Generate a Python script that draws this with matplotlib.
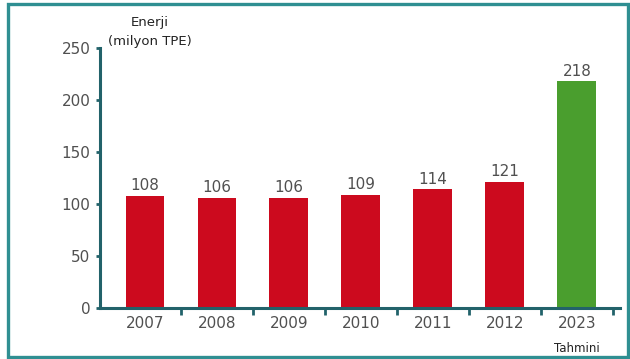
import matplotlib
matplotlib.use("Agg")
import matplotlib.pyplot as plt
from matplotlib.patches import Rectangle
import numpy as np

years = ["2007", "2008", "2009", "2010", "2011", "2012", "2023"]
energy = [108, 106, 106, 109, 114, 121, 218]
bar_colors = ["#cc0a1e"] * 6 + ["#4a9e2e"]
yticks = [0, 50, 100, 150, 200, 250]

AXIS = "#22626a"
TEXT = "#505050"

fig = plt.figure(figsize=(6.3, 3.59), dpi=100)
fig.patch.set_facecolor("white")
ax = fig.add_axes([100 / 630, 1 - 308 / 359, 520 / 630, 260 / 359])

x = np.arange(len(years))
ax.bar(x, energy, width=0.54, color=bar_colors, zorder=2)
for xi, v in zip(x, energy):
    ax.annotate(str(v), (xi, v), xytext=(0, 2), textcoords="offset points",
                ha="center", va="bottom", fontsize=11, color=TEXT)

ax.set_ylim(0, 250)
ax.set_xlim(-0.625, 6.6)
ax.set_yticks(yticks)
ax.set_xticks(x)
ax.set_xticklabels(years)
ax.set_xticks(np.arange(len(years)) + 0.5, minor=True)

for s in ["top", "right"]:
    ax.spines[s].set_visible(False)
for s in ["left", "bottom"]:
    ax.spines[s].set_color(AXIS)
    ax.spines[s].set_linewidth(2.2)
ax.spines["bottom"].set_zorder(3)

ax.tick_params(axis="y", direction="out", length=3, width=2, color=AXIS,
               labelsize=11, labelcolor=TEXT, pad=4)
ax.tick_params(axis="x", which="major", length=0, labelsize=11,
               labelcolor=TEXT, pad=6)
ax.tick_params(axis="x", which="minor", direction="out", length=5,
               width=2, color=AXIS)

fig.text(150 / 630, 1 - 32 / 359, "Enerji\n(milyon TPE)", ha="center",
         va="center", fontsize=9.5, color="#222222", linespacing=1.55)
ax.annotate("Tahmini", (6, 0), xytext=(0, -34), textcoords="offset points",
            ha="center", va="bottom", fontsize=8.5, color="#222222")

fig.patches.append(Rectangle((8 / 630, 2 / 359), 620 / 630, 353 / 359,
                             transform=fig.transFigure, fill=False,
                             edgecolor="#2f8f92", linewidth=2.4))

fig.savefig("out.png", dpi=100)
